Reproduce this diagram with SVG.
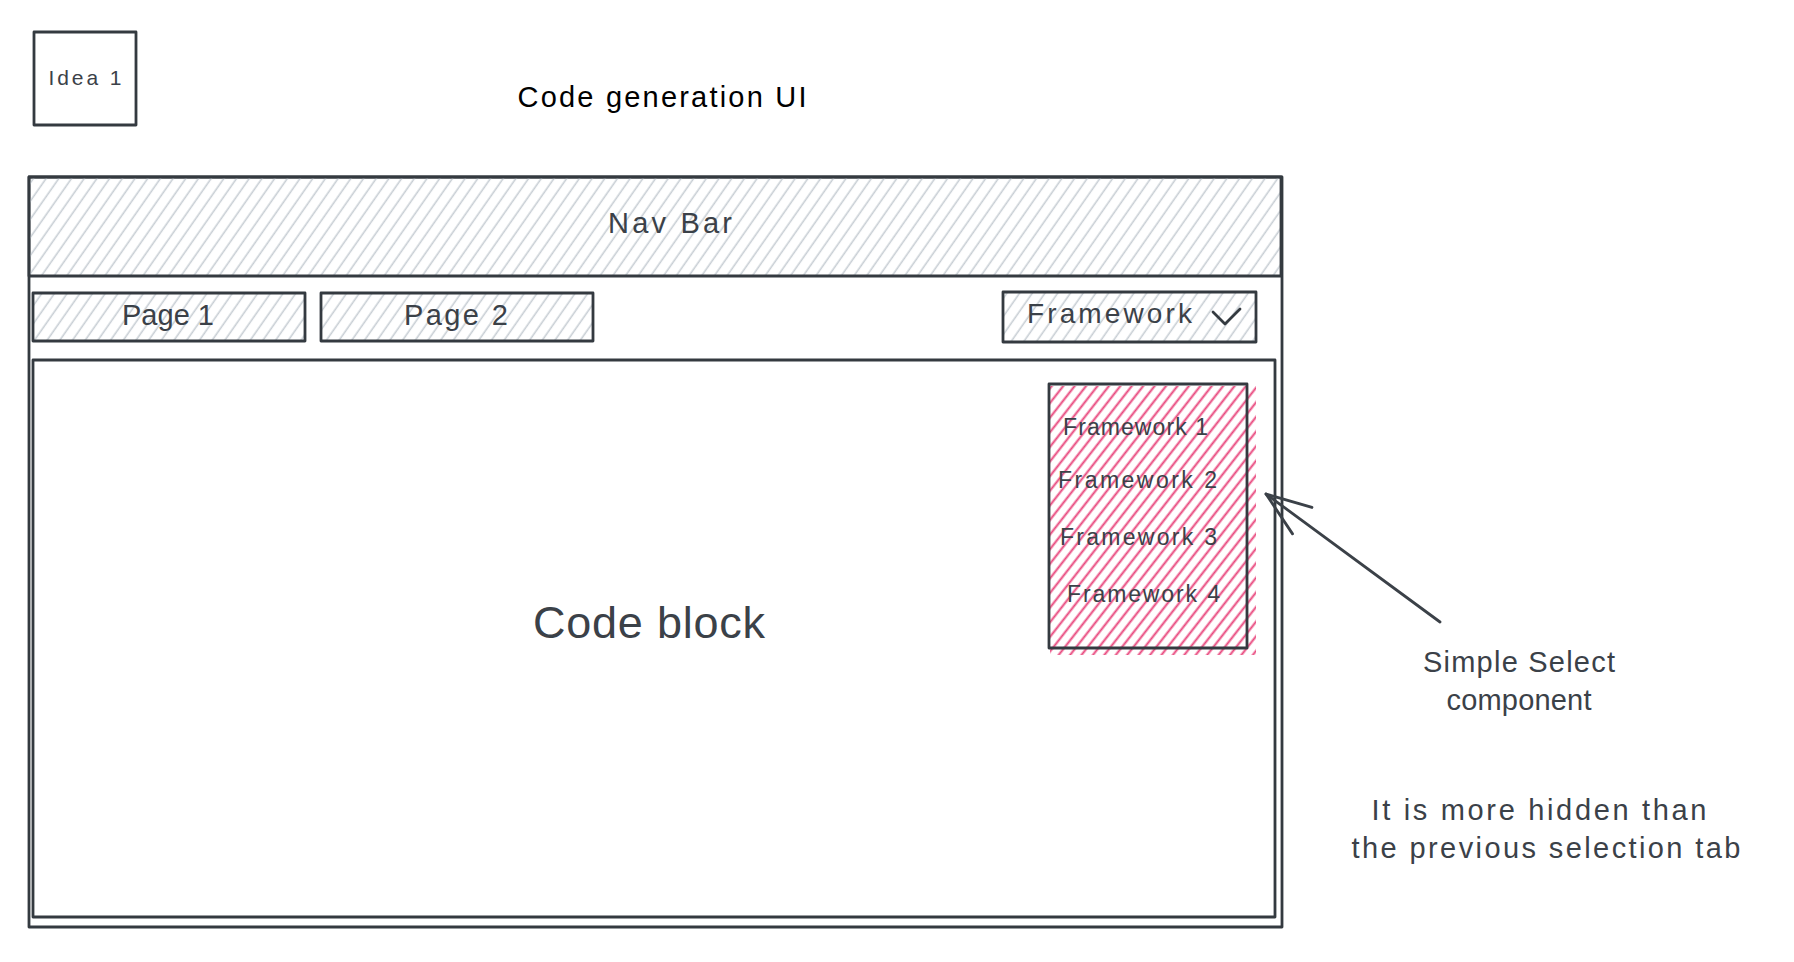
<svg xmlns="http://www.w3.org/2000/svg" width="1794" height="962" viewBox="0 0 1794 962">
  <style>
    .stroke { fill: none; stroke: #343a40; stroke-width: 2.8; stroke-linejoin: round; stroke-linecap: round; }
    .t { font-family: "Liberation Sans", Arial, sans-serif; fill: #3b4148; }
    .mid { text-anchor: middle; }
    .conn { fill: none; stroke: #3b4148; stroke-width: 2.8; stroke-linecap: round; }
  </style>
  <defs>
    <pattern id="hatchGrey" patternUnits="userSpaceOnUse" width="10.4" height="10.4" patternTransform="rotate(35)">
      <line x1="5" y1="-2" x2="5" y2="12.4" stroke="#c8ced4" stroke-width="1.6"/>
    </pattern>
    <pattern id="hatchPink" patternUnits="userSpaceOnUse" width="9" height="9" patternTransform="rotate(38)">
      <line x1="4.5" y1="-2" x2="4.5" y2="11" stroke="#e8467c" stroke-width="2"/>
    </pattern>
    <marker id="arrowOpen" markerUnits="userSpaceOnUse" markerWidth="60" markerHeight="40" refX="0" refY="0" viewBox="-50 -20 60 40" orient="auto" overflow="visible">
      <path d="M-45,-16.4 L0,0 L-45,16.4" fill="none" stroke="#3b4148" stroke-width="2.8" stroke-linecap="round" stroke-linejoin="round"/>
    </marker>
  </defs>

  <rect width="1794" height="962" fill="#ffffff"/>

  <g id="idea1">
    <rect class="stroke" x="34" y="32" width="102" height="93"/>
    <text class="t mid" x="85" y="85" font-size="21" textLength="73">Idea 1</text>
  </g>

  <g id="title">
    <text class="t mid" x="662" y="107" font-size="29" textLength="289" style="fill:#000000">Code generation UI</text>
  </g>

  <g id="outer-frame">
    <rect class="stroke" x="29" y="177" width="1253" height="750"/>
  </g>

  <g id="navbar">
    <rect x="29" y="177" width="1252" height="99" fill="url(#hatchGrey)"/>
    <rect class="stroke" x="29" y="177" width="1252" height="99"/>
    <text class="t mid" x="670" y="233" font-size="29" textLength="124">Nav Bar</text>
  </g>

  <g id="page1">
    <rect x="33" y="293" width="272" height="48" fill="url(#hatchGrey)"/>
    <rect class="stroke" x="33" y="293" width="272" height="48"/>
    <text class="t mid" x="168" y="325" font-size="29" textLength="92">Page 1</text>
  </g>

  <g id="page2">
    <rect x="321" y="293" width="272" height="48" fill="url(#hatchGrey)"/>
    <rect class="stroke" x="321" y="293" width="272" height="48"/>
    <text class="t mid" x="456" y="325" font-size="29" textLength="104">Page 2</text>
  </g>

  <g id="framework-select">
    <rect x="1003" y="292" width="253" height="50" fill="url(#hatchGrey)"/>
    <rect class="stroke" x="1003" y="292" width="253" height="50"/>
    <text class="t" x="1027" y="323" font-size="28" textLength="165">Framework</text>
    <path class="stroke" d="M1213,312 L1225,324 L1240,309"/>
  </g>

  <g id="code-block">
    <rect class="stroke" x="33" y="360" width="1242" height="557"/>
    <text class="t mid" x="649" y="638" font-size="45" textLength="232">Code block</text>
  </g>

  <g id="select-dropdown">
    <rect x="1050" y="386" width="206" height="269" fill="url(#hatchPink)"/>
    <rect class="stroke" x="1049" y="384" width="198" height="264"/>
    <text class="t" x="1063" y="435" font-size="23" textLength="145">Framework 1</text>
    <text class="t" x="1058" y="488" font-size="23" textLength="159">Framework 2</text>
    <text class="t" x="1060" y="545" font-size="23" textLength="157">Framework 3</text>
    <text class="t" x="1067" y="602" font-size="23" textLength="153">Framework 4</text>
  </g>

  <g id="note-simple-select">
    <text class="t mid" x="1519" y="672" font-size="29" textLength="192">Simple Select</text>
    <text class="t mid" x="1519" y="710" font-size="29" textLength="145">component</text>
  </g>

  <g id="note-hidden">
    <text class="t mid" x="1539" y="820" font-size="29" textLength="335">It is more hidden than</text>
    <text class="t mid" x="1546" y="858" font-size="29" textLength="389">the previous selection tab</text>
  </g>

  <g id="connectors">
    <path class="conn" d="M1440,622 L1266,494" marker-end="url(#arrowOpen)"/>
  </g>
</svg>
